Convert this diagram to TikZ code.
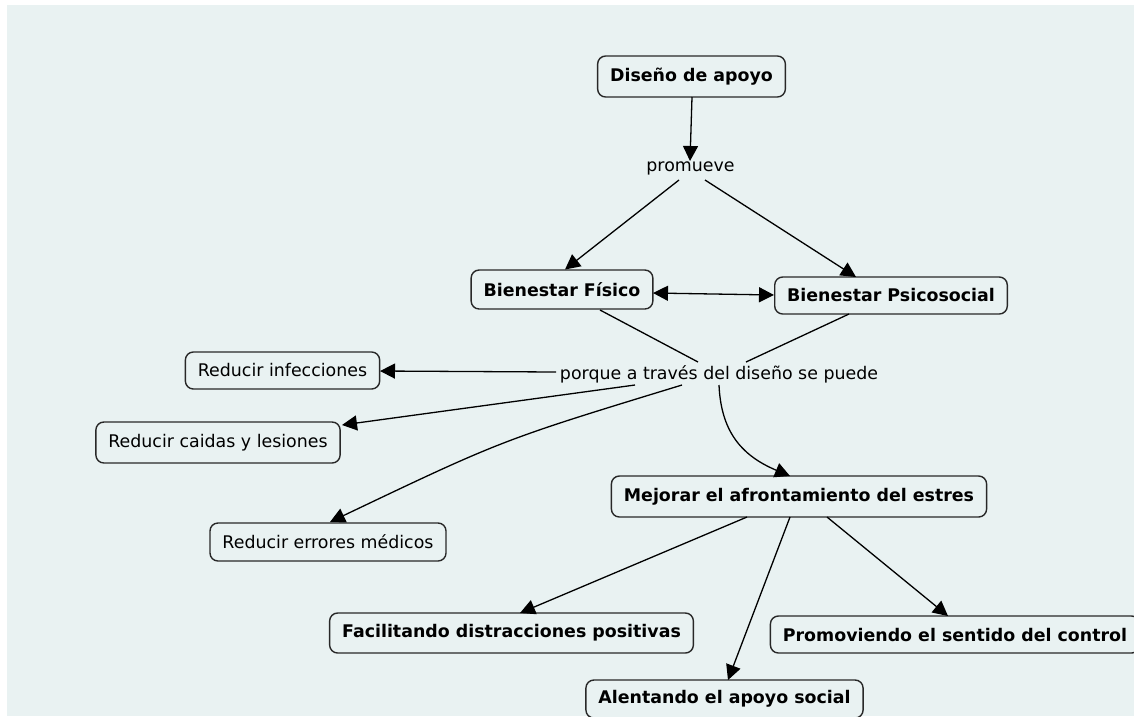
\documentclass[tikz,border=0pt]{standalone}
\usepackage{fontspec}
\setmainfont{DejaVu Sans}
\usetikzlibrary{calc,arrows.meta}
\definecolor{bgc}{RGB}{233,242,242}
\definecolor{edgec}{RGB}{40,40,40}
\tikzset{
  concept/.style={draw=edgec, line width=1.4pt, rounded corners=8pt, fill=bgc,
    inner xsep=12.5pt, inner ysep=0pt, minimum height=39pt,
    font=\fontsize{17.4}{20}\selectfont\bfseries, text=black},
  plainbox/.style={concept, font=\fontsize{17.4}{20}\selectfont},
  linkword/.style={inner sep=0pt, font=\fontsize{17.4}{20}\selectfont, text=black},
  conn/.style={line width=1.3pt, draw=black},
  arr/.style={conn, -{Triangle[length=15pt,width=15pt]}},
  darr/.style={conn, {Triangle[length=15pt,width=15pt]}-{Triangle[length=15pt,width=15pt]}}
}
\begin{document}
\begin{tikzpicture}[x=1pt,y=-1pt]
\useasboundingbox (0,0) rectangle (1134,716);
\clip (0,0) rectangle (1134,716);
\fill[white] (0,0) rectangle (1134,716);
\fill[bgc] (7,5) rectangle (1134,716);

% nodes
\node[concept, minimum height=41pt] (dis) at (691.5,76.5) {Diseño de apoyo};
\node[linkword] (prom) at (690.5,168.5) {promueve};
\node[concept] (fis) at (562,289.5) {Bienestar Físico};
\node[concept, minimum height=37pt] (psi) at (891,295.5) {Bienestar Psicosocial};
\node[linkword] (por) at (719,374) {porque a través del diseño se puede};
\node[plainbox, minimum height=37pt] (inf) at (282.5,370.5) {Reducir infecciones};
\node[plainbox, minimum height=41pt] (cai) at (218,442.5) {Reducir caidas y lesiones};
\node[plainbox, minimum height=38pt] (err) at (328,542) {Reducir errores médicos};
\node[concept, minimum height=41pt] (mej) at (799,496.5) {Mejorar el afrontamiento del estres};
\node[concept, minimum height=40pt] (fac) at (511.5,633) {Facilitando distracciones positivas};
\node[concept, minimum height=38pt] (ale) at (724.5,699) {Alentando el apoyo social};
\node[concept, minimum height=37pt] (pro) at (955,634.5) {Promoviendo el sentido del control};

% connectors
\draw[arr] ($(dis)+(0.5,20.5)$) -- ($(prom)+(-0.5,-7.5)$);
\draw[arr] ($(prom)+(-11.5,11.5)$) -- ($(fis)+(3,-20)$);
\draw[arr] ($(prom)+(14.5,11.5)$) -- ($(psi)+(-35,-18.5)$);
\draw[darr] ($(fis)+(91,3.5)$) -- ($(psi)+(-117,-0.5)$);
\draw[conn] ($(fis)+(38,20.5)$) -- ($(por)+(-21,-12)$);
\draw[conn] ($(psi)+(-42,18.5)$) -- ($(por)+(27,-12)$);
\draw[arr] ($(por)+(-163,-2)$) -- ($(inf)+(97.5,0.5)$);
\draw[arr] ($(por)+(-84,11)$) -- ($(cai)+(124,-17.5)$);
\draw[arr] ($(por)+(-37,11)$) .. controls (502,440) .. ($(err)+(2,-20)$);
\draw[arr] ($(por)+(0,11)$) .. controls (721,430) and (740,455) .. ($(mej)+(-9,-20.5)$);
\draw[arr] ($(mej)+(-52,20.5)$) -- ($(fac)+(8.5,-20)$);
\draw[arr] ($(mej)+(-9,20.5)$) -- ($(ale)+(3.5,-19)$);
\draw[arr] ($(mej)+(28,20.5)$) -- ($(pro)+(-7,-18.5)$);
\end{tikzpicture}
\end{document}
